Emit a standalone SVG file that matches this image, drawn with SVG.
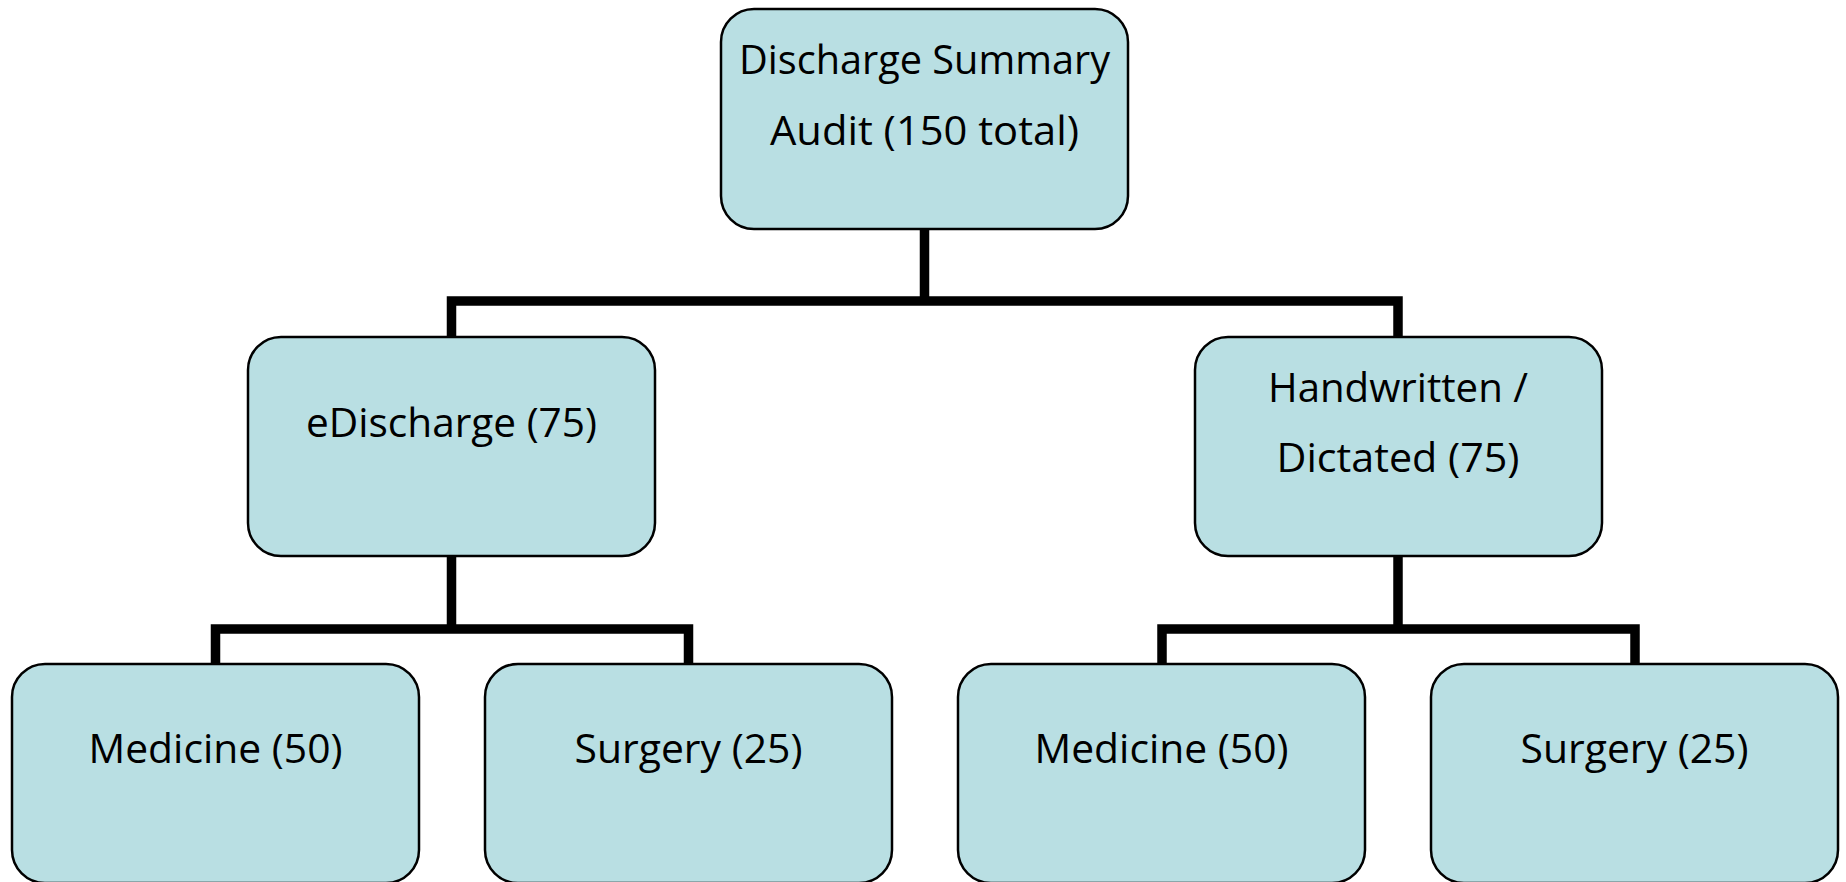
<svg xmlns="http://www.w3.org/2000/svg" width="1846" height="882" viewBox="0 0 1846 882">
<style>
.node rect{fill:#B9DFE3;stroke:#000;stroke-width:2.5}
.node text{font-family:"Open Sans","Noto Sans","Liberation Sans",sans-serif;font-size:41px;fill:#000;text-anchor:middle}
.conn path{fill:none;stroke:#000;stroke-width:9.5;stroke-linejoin:miter;stroke-linecap:butt}
</style>
<rect width="1846" height="882" fill="#fff"/>
<g class="conn" id="connectors">
<path d="M924.5 229 V301 M451.5 337 V301 H1398 V337"/>
<path d="M451.5 556 V629 M215.5 664 V629 H688.5 V664"/>
<path d="M1398 556 V629 M1162 664 V629 H1635 V664"/>
</g>
<g class="node" id="root">
<rect x="721" y="9" width="407" height="220" rx="33"/>
<text x="924.5" y="74" textLength="371" lengthAdjust="spacingAndGlyphs">Discharge Summary</text>
<text x="924.5" y="145" textLength="309" lengthAdjust="spacingAndGlyphs">Audit (150 total)</text>
</g>
<g class="node" id="edischarge">
<rect x="248" y="337" width="407" height="219" rx="33"/>
<text x="451.5" y="437" textLength="291" lengthAdjust="spacingAndGlyphs">eDischarge (75)</text>
</g>
<g class="node" id="handwritten">
<rect x="1195" y="337" width="407" height="219" rx="33"/>
<text x="1398" y="402" textLength="260" lengthAdjust="spacingAndGlyphs">Handwritten /</text>
<text x="1398" y="472" textLength="243" lengthAdjust="spacingAndGlyphs">Dictated (75)</text>
</g>
<g class="node" id="e-medicine">
<rect x="12" y="664" width="407" height="219" rx="33"/>
<text x="215.5" y="763" textLength="254" lengthAdjust="spacingAndGlyphs">Medicine (50)</text>
</g>
<g class="node" id="e-surgery">
<rect x="485" y="664" width="407" height="219" rx="33"/>
<text x="688.5" y="763" textLength="228" lengthAdjust="spacingAndGlyphs">Surgery (25)</text>
</g>
<g class="node" id="h-medicine">
<rect x="958" y="664" width="407" height="219" rx="33"/>
<text x="1161.5" y="763" textLength="254" lengthAdjust="spacingAndGlyphs">Medicine (50)</text>
</g>
<g class="node" id="h-surgery">
<rect x="1431" y="664" width="407" height="219" rx="33"/>
<text x="1634.5" y="763" textLength="228" lengthAdjust="spacingAndGlyphs">Surgery (25)</text>
</g>
</svg>
